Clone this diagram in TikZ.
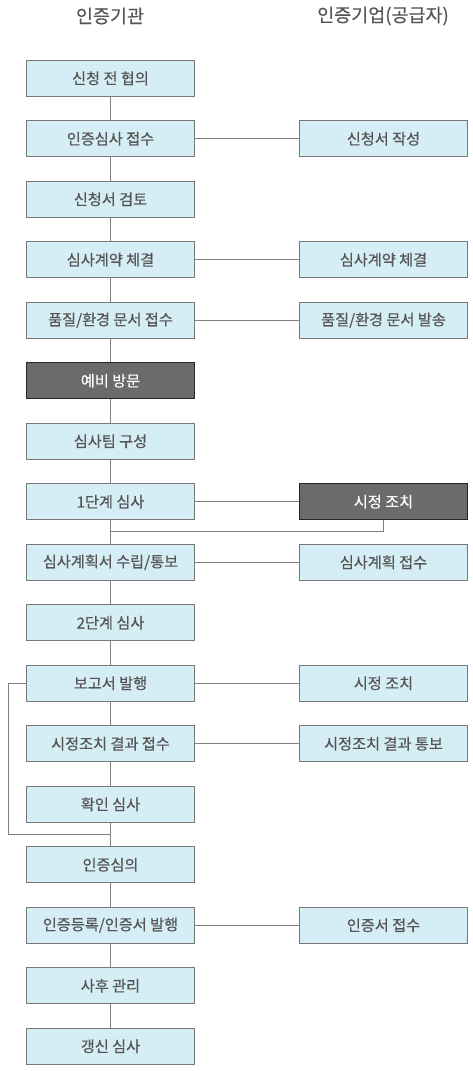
\documentclass[tikz,border=0pt]{standalone}
\usepackage{fontspec}
\setmainfont[FakeBold=0.35]{Noto Sans CJK KR}
\usepackage{tikz}
\usetikzlibrary{positioning}

\definecolor{boxfill}{RGB}{213,237,244}
\definecolor{boxline}{RGB}{120,120,120}
\definecolor{darkfill}{RGB}{107,107,107}
\definecolor{linkgray}{RGB}{128,128,128}
\definecolor{textgray}{RGB}{85,85,85}

\begin{document}
\begin{tikzpicture}[x=1pt, y=-1pt,
    stage/.style={draw=boxline, fill=boxfill, line width=1.3pt, minimum width=168pt,
        minimum height=36pt, inner sep=0pt, text=textgray, font=\fontsize{15.2}{17}\selectfont},
    darkstage/.style={stage, draw=black!85, fill=darkfill, text=white},
    head/.style={text=textgray, font=\fontsize{18.5}{21}\selectfont},
    link/.style={draw=linkgray, line width=1.3pt}]
    \useasboundingbox (0,0) rectangle (472,1071);

    % Headers
    \node[head] (hagency) at (110,16) {인증기관};
    \node[head] (hcompany) at (383,16) {인증기업(공급자)};

    % Certification body
    \node[stage] (a1) at (110.5,78.3) {신청 전 협의};
    \node[stage] (a2) at (110.5,138.8) {인증심사 접수};
    \node[stage] (a3) at (110.5,199.3) {신청서 검토};
    \node[stage] (a4) at (110.5,259.8) {심사계약 체결};
    \node[stage] (a5) at (110.5,320.3) {품질/환경 문서 접수};
    \node[darkstage] (a6) at (110.5,380.8) {예비 방문};
    \node[stage] (a7) at (110.5,441.3) {심사팀 구성};
    \node[stage] (a8) at (110.5,501.8) {1단계 심사};
    \node[stage] (a9) at (110.5,562.3) {심사계획서 수립/통보};
    \node[stage] (a10) at (110.5,622.8) {2단계 심사};
    \node[stage] (a11) at (110.5,683.3) {보고서 발행};
    \node[stage] (a12) at (110.5,743.8) {시정조치 결과 접수};
    \node[stage] (a13) at (110.5,804.3) {확인 심사};
    \node[stage] (a14) at (110.5,864.8) {인증심의};
    \node[stage] (a15) at (110.5,925.3) {인증등록/인증서 발행};
    \node[stage] (a16) at (110.5,985.8) {사후 관리};
    \node[stage] (a17) at (110.5,1046.3) {갱신 심사};

    % Supplier
    \node[stage] (b2) at (383.5,138.8) {신청서 작성};
    \node[stage] (b4) at (383.5,259.8) {심사계약 체결};
    \node[stage] (b5) at (383.5,320.3) {품질/환경 문서 발송};
    \node[darkstage] (b8) at (383.5,501.8) {시정 조치};
    \node[stage] (b9) at (383.5,562.3) {심사계획 접수};
    \node[stage] (b11) at (383.5,683.3) {시정 조치};
    \node[stage] (b12) at (383.5,743.8) {시정조치 결과 통보};
    \node[stage] (b15) at (383.5,925.3) {인증서 접수};

    % Main flow
    \draw[link] (a1) -- (a2) -- (a3) -- (a4) -- (a5) -- (a6) -- (a7) -- (a8);
    \draw[link] (a8) -- (a9) -- (a10) -- (a11) -- (a12) -- (a13) -- (a14);
    \draw[link] (a14) -- (a15) -- (a16) -- (a17);

    % Links to supplier
    \draw[link] (a2) -- (b2);
    \draw[link] (a4) -- (b4);
    \draw[link] (a5) -- (b5);
    \draw[link] (a8) -- (b8);
    \draw[link] (a9) -- (b9);
    \draw[link] (a11) -- (b11);
    \draw[link] (a12) -- (b12);
    \draw[link] (a15) -- (b15);

    % Feedback after stage 1
    \coordinate (back1) at (a8.south |- 0,531.7);
    \draw[link] (b8.south) |- (back1);

    % Loop round the follow-up audit
    \coordinate (loopcorner) at (8.5,834.3);
    \coordinate (loopend) at (a14.north |- loopcorner);
    \draw[link] (a11.west) -| (loopcorner) -- (loopend);
\end{tikzpicture}
\end{document}
